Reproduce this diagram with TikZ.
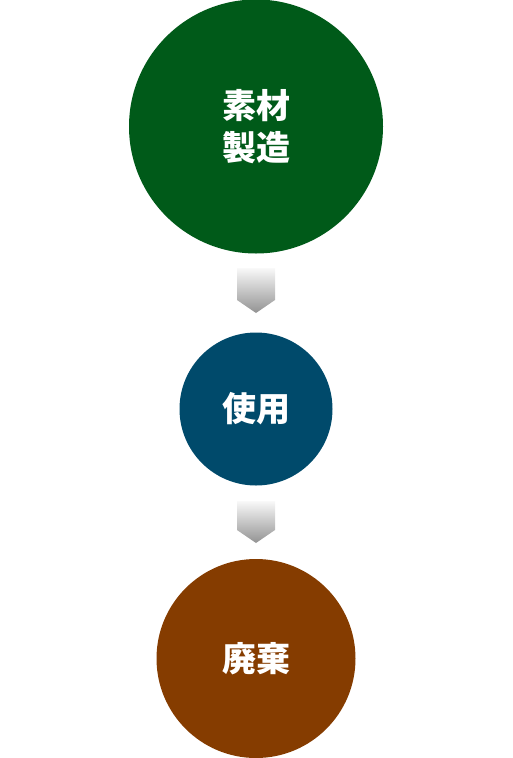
\documentclass[tikz,border=0pt]{standalone}
\usepackage{fontspec}
\newfontfamily\jpfont{Noto Sans CJK JP}
\definecolor{makegreen}{HTML}{005A19}
\definecolor{useblue}{HTML}{004A6B}
\definecolor{wastebrown}{HTML}{853C00}
\begin{document}
\begin{tikzpicture}[x=1pt,y=-1pt]
\tikzset{stage/.style={circle,inner sep=0pt,text=white,align=center,
  font=\jpfont\bfseries\fontsize{34}{42}\selectfont},
  flowarrow/.style={top color=gray!5,bottom color=gray!85}}
\useasboundingbox (0,0) rectangle (512,758);
\node [stage,fill=makegreen,minimum size=254] (make) at (256,126.5) {素材\\製造};
\node [stage,fill=useblue,minimum size=153] (use) at (256,409) {使用};
\node [stage,fill=wastebrown,minimum size=199] (waste) at (256,658.5) {廃棄};
\shade [flowarrow] (237,268) -- (275,268) -- (275,300) -- (256,313) -- (237,300) -- cycle;
\shade [flowarrow] (237,501) -- (275,501) -- (275,530) -- (256,543) -- (237,530) -- cycle;
\end{tikzpicture}
\end{document}
